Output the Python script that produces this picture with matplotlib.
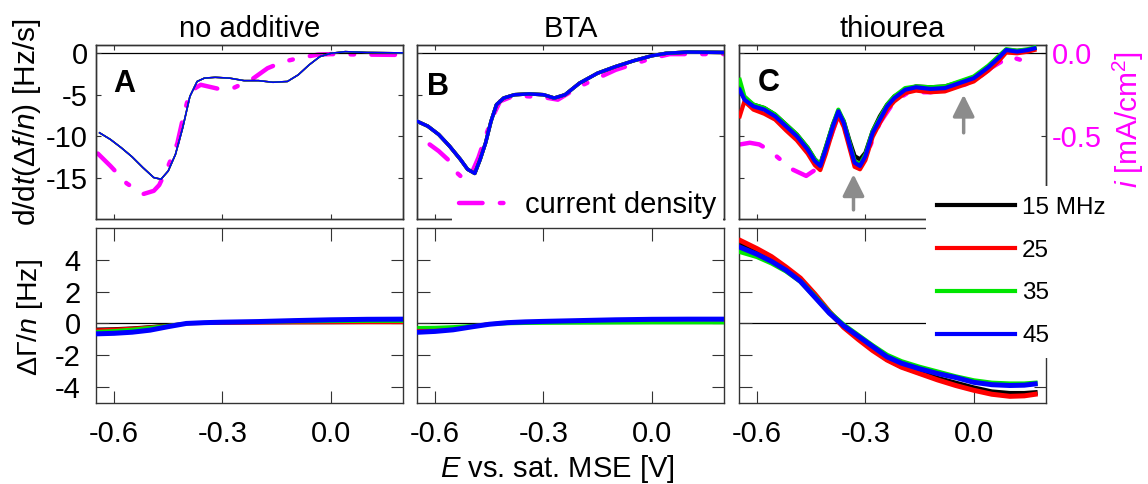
import numpy as np
import matplotlib.pyplot as plt
from matplotlib.lines import Line2D
from matplotlib.ticker import FormatStrFormatter

plt.rcParams['font.family'] = ['Liberation Sans', 'DejaVu Sans']
plt.rcParams['axes.unicode_minus'] = False
plt.rcParams['mathtext.fontset'] = 'custom'
plt.rcParams['mathtext.rm'] = 'Liberation Sans'
plt.rcParams['mathtext.it'] = 'Liberation Sans:italic'
plt.rcParams['mathtext.bf'] = 'Liberation Sans:bold'

# ---------------- data ----------------
titles = ['no additive', 'BTA', 'thiourea']
letters = ['A', 'B', 'C']
freq_labels = ['15 MHz', '25', '35', '45']
freq_colors = ['#000000', '#ff0000', '#00e600', '#0000ff']

# top row: d/dt(df/n) [Hz/s]
E_A = [-0.64, -0.61, -0.58, -0.55, -0.52, -0.49, -0.47, -0.45, -0.43, -0.41, -0.39, -0.37, -0.35,
       -0.32, -0.28, -0.24, -0.20, -0.16, -0.12, -0.09, -0.06, -0.03, 0.0, 0.04, 0.1, 0.2]
dfdt_A = [-9.6, -10.4, -11.4, -12.5, -13.8, -15.0, -15.2, -14.2, -12.2, -9.0, -5.2, -3.4, -3.0,
          -2.9, -3.0, -3.3, -3.3, -3.5, -3.4, -2.6, -1.4, -0.4, 0.0, 0.2, 0.1, 0.05]

E_B = [-0.65, -0.62, -0.59, -0.56, -0.53, -0.51, -0.49, -0.475, -0.46, -0.445, -0.43, -0.41, -0.38,
       -0.34, -0.30, -0.27, -0.24, -0.20, -0.15, -0.10, -0.05, 0.0, 0.04, 0.1, 0.2]
dfdt_B = [-8.2, -8.8, -9.8, -11.2, -12.8, -14.0, -14.5, -12.8, -10.8, -8.2, -6.2, -5.4, -5.0,
          -4.9, -5.0, -5.4, -5.0, -3.6, -2.4, -1.6, -0.9, -0.3, 0.0, 0.15, 0.1]

E_C = [-0.648, -0.635, -0.61, -0.58, -0.55, -0.52, -0.49, -0.46, -0.44, -0.425, -0.41, -0.39,
       -0.375, -0.36, -0.345, -0.33, -0.315, -0.30, -0.28, -0.26, -0.24, -0.22, -0.19, -0.16,
       -0.12, -0.08, -0.04, 0.0, 0.04, 0.07, 0.09, 0.12, 0.15, 0.168]
dfdt_C_15 = [-4.0, -5.4, -6.2, -6.6, -7.4, -8.6, -9.8, -11.4, -12.8, -13.4, -11.4, -8.6,
             -7.0, -8.2, -10.4, -12.4, -12.8, -12.0, -9.4, -7.6, -6.2, -5.2, -4.4, -4.0,
             -4.1, -4.0, -3.5, -2.9, -1.6, -0.4, 0.4, 0.3, 0.4, 0.6]
dfdt_C_25 = [-7.6, -5.8, -6.8, -7.3, -8.0, -9.3, -10.5, -12.1, -13.5, -14.1, -12.2, -9.3,
             -7.5, -8.9, -11.3, -13.7, -14.0, -12.9, -10.1, -8.4, -6.8, -5.8, -4.8, -4.5,
             -4.7, -4.6, -4.0, -3.4, -2.1, -0.9, 0.1, 0.0, 0.2, 0.4]
dfdt_C_35 = [-3.2, -5.2, -6.2, -6.6, -7.4, -8.6, -9.8, -11.4, -12.8, -13.4, -11.4, -8.6,
             -6.8, -8.2, -10.6, -13.0, -13.4, -12.2, -9.4, -7.8, -6.2, -5.2, -4.2, -4.0,
             -4.1, -4.0, -3.4, -2.8, -1.5, -0.3, 0.5, 0.3, 0.5, 0.7]
dfdt_C_45 = [-4.4, -5.6, -6.4, -6.8, -7.6, -8.8, -10.0, -11.6, -13.0, -13.6, -11.6, -8.8,
             -7.0, -8.4, -10.8, -13.2, -13.6, -12.4, -9.6, -8.0, -6.4, -5.4, -4.4, -4.1,
             -4.3, -4.2, -3.6, -3.0, -1.7, -0.5, 0.4, 0.2, 0.4, 0.6]

# current density [mA/cm2]
Ei_A = [-0.645, -0.61, -0.565, -0.52, -0.49, -0.475, -0.45, -0.425, -0.41, -0.39, -0.36, -0.31,
        -0.27, -0.22, -0.175, -0.13, -0.08, -0.035, 0.0, 0.1, 0.2]
i_A = [-0.605, -0.68, -0.785, -0.85, -0.83, -0.795, -0.68, -0.545, -0.40, -0.23, -0.19, -0.215,
       -0.21, -0.16, -0.09, -0.05, -0.025, -0.008, -0.005, -0.008, -0.01]
Ei_B = [-0.615, -0.59, -0.565, -0.54, -0.52, -0.50, -0.48, -0.46, -0.44, -0.42, -0.38, -0.30,
        -0.26, -0.20, -0.10, 0.0, 0.05, 0.2]
i_B = [-0.55, -0.59, -0.64, -0.72, -0.76, -0.73, -0.63, -0.50, -0.38, -0.29, -0.255, -0.265,
       -0.28, -0.20, -0.10, -0.03, -0.005, -0.005]
Ei_C = [-0.647, -0.62, -0.594, -0.57, -0.547, -0.525, -0.503, -0.464, -0.43, -0.40, -0.375,
        -0.35, -0.32, -0.29, -0.26, -0.22, -0.18, -0.12, -0.06, 0.0, 0.05, 0.10, 0.13, 0.167]
i_C = [-0.55, -0.54, -0.55, -0.58, -0.62, -0.66, -0.70, -0.74, -0.69, -0.53, -0.375, -0.50,
       -0.685, -0.575, -0.42, -0.29, -0.235, -0.235, -0.215, -0.17, -0.085, -0.02, -0.04, -0.043]

# bottom row: dGamma/n [Hz]
Eb_AB = [-0.645, -0.6, -0.55, -0.5, -0.45, -0.4, -0.35, -0.3, -0.2, -0.1, 0.0, 0.1, 0.2]
dG_A = [
    [-0.35, -0.33, -0.28, -0.2, -0.1, 0.0, 0.02, 0.03, 0.04, 0.05, 0.05, 0.06, 0.06],
    [-0.4, -0.36, -0.3, -0.22, -0.12, -0.02, 0.0, 0.02, 0.03, 0.04, 0.05, 0.05, 0.05],
    [-0.5, -0.45, -0.36, -0.25, -0.12, 0.0, 0.04, 0.06, 0.08, 0.1, 0.12, 0.13, 0.13],
    [-0.65, -0.62, -0.55, -0.42, -0.2, 0.0, 0.05, 0.08, 0.12, 0.18, 0.23, 0.26, 0.27],
]
dG_B = [
    [-0.4, -0.36, -0.28, -0.15, -0.03, 0.05, 0.09, 0.12, 0.16, 0.2, 0.22, 0.23, 0.23],
    [-0.42, -0.38, -0.3, -0.16, -0.02, 0.06, 0.1, 0.13, 0.17, 0.2, 0.22, 0.23, 0.23],
    [-0.25, -0.24, -0.2, -0.13, -0.07, -0.02, 0.0, 0.01, 0.02, 0.03, 0.04, 0.04, 0.04],
    [-0.55, -0.5, -0.4, -0.22, -0.05, 0.05, 0.1, 0.13, 0.18, 0.23, 0.26, 0.27, 0.27],
]
Eb_C = [-0.645, -0.60, -0.56, -0.52, -0.48, -0.44, -0.40, -0.36, -0.32, -0.28, -0.24, -0.20,
        -0.15, -0.10, -0.05, 0.0, 0.05, 0.10, 0.14, 0.17]
dG_C = [
    [4.95, 4.5, 4.05, 3.45, 2.75, 1.75, 0.7, -0.2, -0.9, -1.6, -2.25, -2.7, -3.1, -3.45, -3.75,
     -4.05, -4.3, -4.4, -4.4, -4.35],
    [5.2, 4.7, 4.2, 3.55, 2.85, 1.85, 0.75, -0.25, -1.0, -1.7, -2.3, -2.75, -3.15, -3.55, -3.9,
     -4.2, -4.45, -4.58, -4.55, -4.45],
    [4.5, 4.2, 3.8, 3.3, 2.65, 1.7, 0.7, -0.1, -0.75, -1.4, -2.0, -2.4, -2.75, -3.05, -3.35,
     -3.6, -3.75, -3.8, -3.8, -3.75],
    [4.77, 4.35, 3.9, 3.35, 2.65, 1.65, 0.65, -0.15, -0.8, -1.45, -2.1, -2.5, -2.85, -3.15, -3.4,
     -3.7, -3.85, -3.9, -3.88, -3.8],
]

top_E = [E_A, E_B, E_C]
top_y = [[dfdt_A] * 4, [dfdt_B] * 4, [dfdt_C_15, dfdt_C_25, dfdt_C_35, dfdt_C_45]]
cur_E = [Ei_A, Ei_B, Ei_C]
cur_i = [i_A, i_B, i_C]
bot_E = [Eb_AB, Eb_AB, Eb_C]
bot_y = [dG_A, dG_B, dG_C]

# ---------------- figure ----------------
W, H = 1148, 484
fig = plt.figure(figsize=(W / 100, H / 100), dpi=100)

def box(x0, y0, x1, y1):
    return [x0 / W, 1 - y1 / H, (x1 - x0) / W, (y1 - y0) / H]

lefts = [96, 417, 739]
pw = 307
magenta = '#ff00ff'
spine_c = '#333333'
top_lw = [1.1, 2.5, 3.0]
letter_pos = [(0.055, 0.73), (0.033, 0.713), (0.062, 0.733)]
twin_ticks = [[-0.75, -0.5, -0.25], [-0.5], [-0.5, 0.0]]
dash = (0, (5.3, 3.9, 0.8, 3.9))

for k in range(3):
    x0 = lefts[k]
    ax = fig.add_axes(box(x0, 45, x0 + pw, 219))
    tw = ax.twinx()
    ax.set_zorder(tw.get_zorder() + 1)
    ax.patch.set_visible(False)

    tw.plot(cur_E[k], cur_i[k], color=magenta, lw=3.2, linestyle=dash, dash_capstyle='round')
    tw.set_ylim(-1.0, 0.05)
    tw.set_yticks(twin_ticks[k])
    tw.tick_params(axis='y', direction='in', length=3.5, width=0.8, color=spine_c,
                   labelsize=21, labelcolor=magenta, pad=4)
    if k < 2:
        tw.set_yticklabels([])
    else:
        tw.yaxis.set_major_formatter(FormatStrFormatter('%.1f'))

    ax.axhline(0, color='black', lw=0.9, zorder=1)
    for c, yv in enumerate(top_y[k]):
        ax.plot(top_E[k], yv, color=freq_colors[c], lw=top_lw[k], zorder=2 + c)

    ax.set_xlim(-0.65, 0.2)
    ax.set_ylim(-20, 1)
    ax.set_xticks([-0.6, -0.3, 0.0])
    ax.set_yticks([0, -5, -10, -15])
    ax.tick_params(direction='in', length=3.5, width=0.8, color=spine_c, top=True,
                   right=False, labelsize=21, pad=6)
    ax.set_xticklabels([])
    if k > 0:
        ax.set_yticklabels([])
    for ax_ in (ax, tw):
        for s in ax_.spines.values():
            s.set_color(spine_c)
            s.set_linewidth(1.0)
    ax.set_title(titles[k], fontsize=21, pad=6)
    ax.text(letter_pos[k][0], letter_pos[k][1], letters[k], transform=ax.transAxes,
            fontsize=22, fontweight='bold', ha='left', va='baseline')

    if k == 2:
        akw = dict(arrowstyle='-|>,head_length=0.6,head_width=0.3', color='#8c8c8c',
                   lw=2.5, mutation_scale=22, shrinkA=0, shrinkB=0)
        ax.annotate('', xy=(-0.333, -14.6), xytext=(-0.333, -18.9), arrowprops=akw, zorder=10)
        ax.annotate('', xy=(-0.028, -5.0), xytext=(-0.028, -9.6), arrowprops=akw, zorder=10)

    # bottom row
    bx = fig.add_axes(box(x0, 228, x0 + pw, 403))
    bx.axhline(0, color='black', lw=0.9, zorder=1)
    for c, yv in enumerate(bot_y[k]):
        lw = 3.6 if (k == 2 or c == 3) else 2.2
        bx.plot(bot_E[k], yv, color=freq_colors[c], lw=lw, zorder=2 + c)
    bx.set_xlim(-0.65, 0.2)
    bx.set_ylim(-5, 6)
    bx.set_xticks([-0.6, -0.3, 0.0])
    bx.set_yticks([4, 2, 0, -2, -4])
    bx.xaxis.set_major_formatter(FormatStrFormatter('%.1f'))
    bx.tick_params(direction='in', length=9, width=0.8, color=spine_c, top=True, right=True,
                   labelsize=21)
    bx.tick_params(axis='x', pad=12)
    bx.tick_params(axis='y', pad=11)
    if k > 0:
        bx.set_yticklabels([])
    for s in bx.spines.values():
        s.set_color(spine_c)
        s.set_linewidth(1.0)

# axis labels
fig.text(27 / W, 1 - 122 / H, r'd/d$\mathit{t}$($\mathit{Δf}$/$\mathit{n}$) [Hz/s]',
         rotation=90, ha='center', va='center', fontsize=21.5)
fig.text(30 / W, 1 - 317 / H, r'$\mathit{ΔΓ}$/$\mathit{n}$ [Hz]',
         rotation=90, ha='center', va='center', fontsize=20.5)
fig.text(1128 / W, 1 - 119 / H, r'$\mathit{i}$ [mA/cm$^2$]', color=magenta,
         rotation=90, ha='center', va='center', fontsize=21.5)
fig.text(557 / W, 1 - 469 / H, r'$\mathit{E}$ vs. sat. MSE [V]',
         ha='center', va='center', fontsize=21)

# legends
fig.legend(handles=[Line2D([], [], color=magenta, lw=3.2, linestyle=dash,
                           dash_capstyle='round')],
           labels=['current density'], loc='center left',
           bbox_to_anchor=(452 / W, 1 - 205 / H), borderaxespad=0, borderpad=0.25,
           handlelength=1.7, handletextpad=0.55, fontsize=21, frameon=True,
           facecolor='white', edgecolor='none', framealpha=1, fancybox=False)
freq_handles = [Line2D([], [], color=col, lw=3.0) for col in freq_colors]
fig.legend(handles=freq_handles, labels=freq_labels, loc='center left',
           bbox_to_anchor=(926 / W, 1 - 272 / H), borderaxespad=0, borderpad=0.45,
           handlelength=3.2, handletextpad=0.3, labelspacing=0.85, fontsize=17.5,
           frameon=True, facecolor='white', edgecolor='none', framealpha=1,
           fancybox=False)

fig.savefig('out.png', dpi=100)
